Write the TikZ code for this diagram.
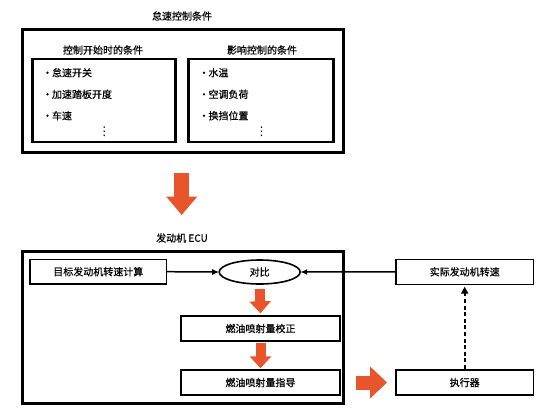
\documentclass[tikz,border=0pt]{standalone}
\usepackage{fontspec}
\setmainfont{Noto Sans CJK SC}[FakeBold=0.6]
\newfontfamily\symfont{DejaVu Sans}
\usetikzlibrary{arrows.meta,shapes.geometric}
\definecolor{arroworange}{HTML}{E8542C}
\newcommand\itm[1]{\makebox[7pt][c]{•}\hspace{1pt}#1}
\tikzset{
  txt/.style={font=\fontsize{10}{12}\selectfont, inner sep=0pt, outer sep=0pt},
  bigbox/.style={draw, line width=3pt, inner sep=0pt, outer sep=0pt},
  midbox/.style={draw, line width=2.4pt, inner sep=0pt, outer sep=0pt},
  smallbox/.style={draw, line width=1.6pt, inner sep=0pt, outer sep=0pt, font=\fontsize{10}{12}\selectfont},
  item/.style={txt, anchor=west},
  dotsnode/.style={font=\symfont\fontsize{12}{12}\selectfont, inner sep=0pt, outer sep=0pt},
  blackarrow/.style={line width=1.5pt, -{Latex[length=7pt,width=6pt]}},
  bigorange/.style={arroworange, line width=15pt, -{Triangle[length=18.5pt,width=30pt]}},
  smallorange/.style={arroworange, line width=10pt, -{Triangle[length=12pt,width=21pt]}},
  rightorange/.style={arroworange, line width=14pt, -{Triangle[length=17pt,width=31pt]}},
  dashedarrow/.style={line width=2.4pt, dash pattern=on 4pt off 2.6pt, -{Triangle[length=7pt,width=7pt]}},
}
\begin{document}
\begin{tikzpicture}[x=1pt,y=-1pt]
\fill[white] (0,0) rectangle (550,413);
\useasboundingbox (0,0) rectangle (550,413);

% top part
\node[txt] (title) at (182,16) {怠速控制条件};
\node[bigbox, minimum width=321pt, minimum height=123pt] (outer) at (182.5,90.8) {};
\node[txt] (sub1) at (103,50) {控制开始时的条件};
\node[txt] (sub2) at (262,50) {影响控制的条件};
\node[midbox, minimum width=143pt, minimum height=83pt] (inner1) at (104,100.2) {};
\node[midbox, minimum width=145pt, minimum height=83pt] (inner2) at (260.8,100.2) {};

\node[item] (l1) at (44,72.7) {\itm{怠速开关}};
\node[item] (l2) at (44,94.3) {\itm{加速踏板开度}};
\node[item] (l3) at (44,115.7) {\itm{车速}};
\node[dotsnode] (ldots) at (104.3,132) {⋮};

\node[item] (r1) at (200.5,72.7) {\itm{水温}};
\node[item] (r2) at (200.5,94.3) {\itm{空调负荷}};
\node[item] (r3) at (200.5,115.7) {\itm{换挡位置}};
\node[dotsnode] (rdots) at (261.7,132) {⋮};

% big arrow down
\coordinate (a1s) at (181.7,173);
\coordinate (a1e) at (181.7,215);
\draw[bigorange] (a1s) -- (a1e);

% ECU part
\node[txt] (ecul) at (182,238) {发动机 ECU};
\node[bigbox, minimum width=320.6pt, minimum height=151.6pt] (ecu) at (183,327.5) {};
\node[smallbox, minimum width=136.7pt, minimum height=24.7pt] (target) at (98.3,271.7) {目标发动机转速计算};
\node[ellipse, draw, line width=1.6pt, inner sep=0pt, outer sep=0pt, minimum width=81pt, minimum height=24pt, font=\fontsize{10}{12}\selectfont] (cmp) at (259.7,272) {对比};
\node[smallbox, minimum width=137.3pt, minimum height=25pt] (actual) at (464.7,271.8) {实际发动机转速};
\node[smallbox, minimum width=159pt, minimum height=25pt] (corr) at (260.5,328.5) {燃油喷射量校正};
\node[smallbox, minimum width=159pt, minimum height=25pt] (cmd) at (260.5,382.5) {燃油喷射量指导};
\node[smallbox, minimum width=137.3pt, minimum height=25pt] (act) at (464.7,382.5) {执行器};

\draw[blackarrow] (target.east) -- (cmp.west);
\draw[blackarrow] (actual.west) -- (cmp.east);
\draw[smallorange, shorten <=5pt, shorten >=2.7pt] (cmp.south) -- (corr.north);
\draw[smallorange, shorten <=2.3pt, shorten >=1.7pt] (corr.south) -- (cmd.north);
\draw[rightorange, shorten <=16pt, shorten >=9pt] (cmd.east) -- (act.west);
\draw[dashedarrow, shorten <=1pt, shorten >=2.4pt] (act.north) -- (actual.south);
\end{tikzpicture}
\end{document}
